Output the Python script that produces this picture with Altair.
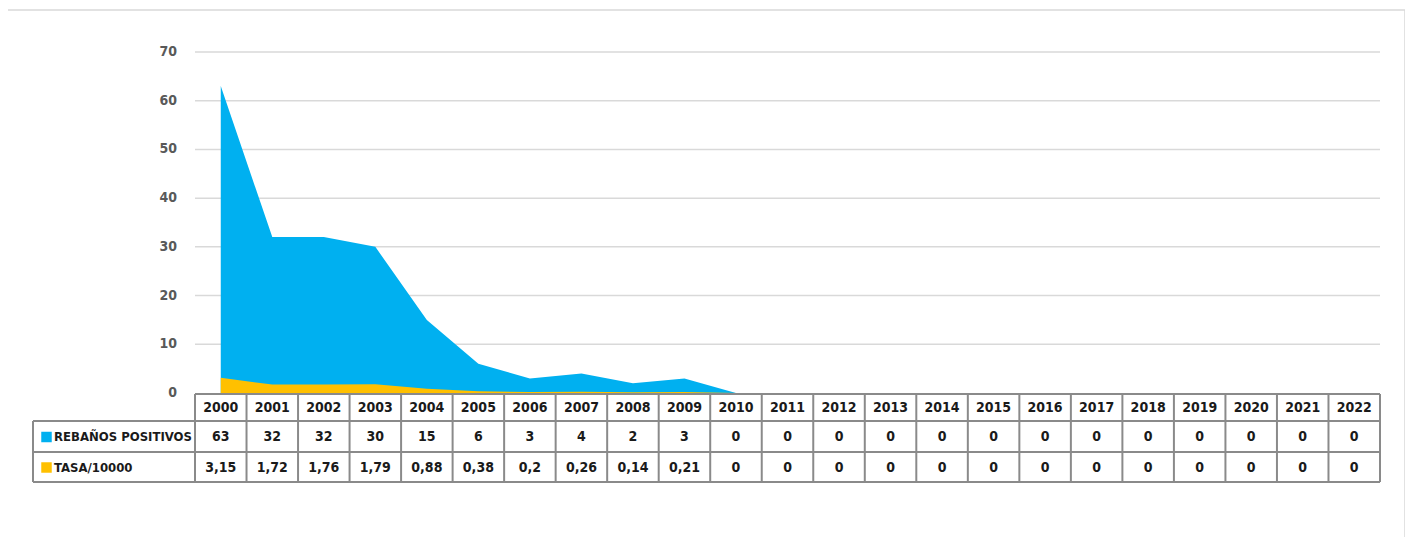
import altair as alt
import pandas as pd

# ---------------- data ----------------
years = [str(y) for y in range(2000, 2023)]
rebanos = [63, 32, 32, 30, 15, 6, 3, 4, 2, 3, 0, 0, 0, 0, 0, 0, 0, 0, 0, 0, 0, 0, 0]
tasa = [3.15, 1.72, 1.76, 1.79, 0.88, 0.38, 0.2, 0.26, 0.14, 0.21, 0, 0, 0, 0, 0, 0, 0, 0, 0, 0, 0, 0, 0]
y_ticks = [0, 10, 20, 30, 40, 50, 60, 70]
series_names = ["REBAÑOS POSITIVOS", "TASA/10000"]
series_colors = ["#00B0F0", "#FFC000"]

# ---------------- layout (pixels, page coords) ----------------
PAGE = 8
PLOT_L, PLOT_R = 33, 1380
CAT_L = 195
PLOT_T, PLOT_B = 40, 483
Y0_PX, Y70_PX = 393, 52
ROW_EDGES = [394, 421, 452, 482]

n = len(years)
cat_w = (PLOT_R - CAT_L) / n
unit = (Y0_PX - Y70_PX) / 70.0
x_dom = [-(CAT_L - PLOT_L) / cat_w, n]
y_dom = [-(PLOT_B - Y0_PX) / unit, (Y0_PX - PLOT_T) / unit]


def yv(px):
    return (Y0_PX - px) / unit


def xv(px):
    return (px - CAT_L) / cat_w


W = PLOT_R - PLOT_L
H = PLOT_B - PLOT_T
FONT = "DejaVu Sans Condensed, DejaVu Sans, sans-serif"

xs = alt.Scale(domain=x_dom, nice=False, zero=False)
ys = alt.Scale(domain=y_dom, nice=False, zero=False)


def fmt(v):
    return str(v).replace(".", ",")


df = pd.DataFrame({
    "year": years,
    "xc": [i + 0.5 for i in range(n)],
    "rebanos": rebanos,
    "tasa": tasa,
    "reb_lab": [fmt(v) for v in rebanos],
    "tasa_lab": [fmt(v) for v in tasa],
    "zero": [0] * n,
})

# frame
frame = alt.Chart(pd.DataFrame({"a": [0]})).mark_rect(
    fill="white", stroke="#d9d9d9", strokeWidth=1.5
).encode(
    x=alt.value(7 - PLOT_L), x2=alt.value(1405 - PLOT_L),
    y=alt.value(10 - PLOT_T), y2=alt.value(560 - PLOT_T),
)

# gridlines
grid_df = pd.DataFrame({"t": [t for t in y_ticks if t > 0], "x0": 0.0, "x1": float(n)})
grid = alt.Chart(grid_df).mark_rule(color="#d9d9d9", strokeWidth=1.5).encode(
    x=alt.X("x0:Q", scale=xs, axis=None), x2="x1:Q",
    y=alt.Y("t:Q", scale=ys, axis=None),
)

# y tick labels
ylab_df = pd.DataFrame({"t": y_ticks, "lx": xv(177)})
ylab = alt.Chart(ylab_df).mark_text(
    align="right", baseline="middle", font=FONT, fontSize=14, fontWeight="bold", color="#595959"
).encode(
    x=alt.X("lx:Q", scale=xs, axis=None), y=alt.Y("t:Q", scale=ys, axis=None), text="t:Q"
)

area_reb = alt.Chart(df).mark_area(color=series_colors[0], opacity=1).encode(
    x=alt.X("xc:Q", scale=xs, axis=None),
    y=alt.Y("rebanos:Q", scale=ys, axis=None), y2="zero:Q",
)
area_tasa = alt.Chart(df).mark_area(color=series_colors[1], opacity=1).encode(
    x=alt.X("xc:Q", scale=xs, axis=None),
    y=alt.Y("tasa:Q", scale=ys, axis=None), y2="zero:Q",
)

# table grid lines
h_df = pd.DataFrame({
    "y": [yv(p) for p in ROW_EDGES],
    "xa": [0.0] + [xv(PLOT_L)] * 3,
    "xb": [float(n)] * 4,
})
v_rows = [{"x": float(i), "ya": yv(ROW_EDGES[0]), "yb": yv(ROW_EDGES[-1])} for i in range(n + 1)]
v_rows.append({"x": xv(PLOT_L), "ya": yv(ROW_EDGES[1]), "yb": yv(ROW_EDGES[-1])})
v_df = pd.DataFrame(v_rows)
LINE = "#8a8a8a"
hlines = alt.Chart(h_df).mark_rule(color=LINE, strokeWidth=2).encode(
    x=alt.X("xa:Q", scale=xs, axis=None), x2="xb:Q",
    y=alt.Y("y:Q", scale=ys, axis=None),
)
vlines = alt.Chart(v_df).mark_rule(color=LINE, strokeWidth=2).encode(
    x=alt.X("x:Q", scale=xs, axis=None),
    y=alt.Y("ya:Q", scale=ys, axis=None), y2="yb:Q",
)

row_c = [(ROW_EDGES[i] + ROW_EDGES[i + 1]) / 2 + 0.5 for i in range(3)]
df["y_year"] = yv(row_c[0])
df["y_reb"] = yv(row_c[1])
df["y_tasa"] = yv(row_c[2])


def table_text(field, yfield):
    return alt.Chart(df).mark_text(
        align="center", baseline="middle", font=FONT, fontSize=14, fontWeight="bold", color="#1a1a1a"
    ).encode(
        x=alt.X("xc:Q", scale=xs, axis=None),
        y=alt.Y(f"{yfield}:Q", scale=ys, axis=None),
        text=f"{field}:N",
    )


t_year = table_text("year", "y_year")
t_reb = table_text("reb_lab", "y_reb")
t_tasa = table_text("tasa_lab", "y_tasa")

leg_df = pd.DataFrame({
    "name": series_names,
    "color": series_colors,
    "sx": xv(46.5),
    "tx": xv(54),
    "y": [yv(row_c[1]), yv(row_c[2])],
})
leg_sq = alt.Chart(leg_df).mark_square(size=110, opacity=1).encode(
    x=alt.X("sx:Q", scale=xs, axis=None),
    y=alt.Y("y:Q", scale=ys, axis=None),
    color=alt.Color("color:N", scale=None, legend=None),
)
leg_tx = alt.Chart(leg_df).mark_text(
    align="left", baseline="middle", font=FONT, fontSize=13, fontWeight="bold", color="#1a1a1a"
).encode(
    x=alt.X("tx:Q", scale=xs, axis=None),
    y=alt.Y("y:Q", scale=ys, axis=None),
    text="name:N",
)

chart = alt.layer(
    frame, grid, ylab, area_reb, area_tasa, hlines, vlines, t_year, t_reb, t_tasa, leg_sq, leg_tx
).properties(
    width=W, height=H,
    autosize=alt.AutoSizeParams(type="none"),
    padding={"left": PLOT_L - PAGE, "top": PLOT_T - PAGE, "right": 25, "bottom": 70},
).configure_view(stroke=None).configure(background="white")

chart.save("out.html", embed_options={"renderer": "svg", "actions": False})
